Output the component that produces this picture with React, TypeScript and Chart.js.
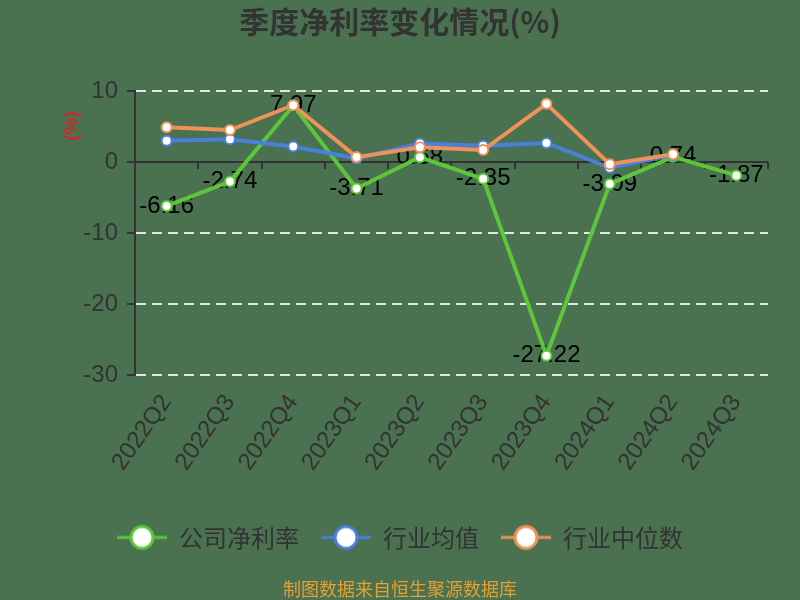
import React, { useEffect, useRef } from 'react';
import { Chart, registerables } from 'chart.js';

Chart.register(...registerables);

const categories = ['2022Q2', '2022Q3', '2022Q4', '2023Q1', '2023Q2', '2023Q3', '2023Q4', '2024Q1', '2024Q2', '2024Q3'];
const companyNetMargin = [-6.16, -2.74, 7.97, -3.71, 0.68, -2.35, -27.22, -3.09, 0.74, -1.87];
const industryMean = [3.0, 3.2, 2.2, 0.5, 2.6, 2.3, 2.7, -0.8, 1.0, null];
const industryMedian = [4.9, 4.5, 8.0, 0.7, 2.1, 1.7, 8.2, -0.3, 1.1, null];
const yTicks = [10, 0, -10, -20, -30];
const seriesNames = ['公司净利率', '行业均值', '行业中位数'];
const seriesColors = ['#5cc53a', '#4a80dc', '#f0915a'];
const titleText = '季度净利率变化情况(%)';
const yAxisName = '(%)';
const footerText = '制图数据来自恒生聚源数据库';

const BG = '#4a7150';
const NUM_FONT = '"Liberation Sans", Arial, "Noto Sans CJK SC", sans-serif';
const CJK_FONT = '"Noto Sans CJK SC", "Liberation Sans", sans-serif';

function makeLegendMarker(color: string): HTMLCanvasElement {
  const c = document.createElement('canvas');
  c.width = 50;
  c.height = 28;
  const g = c.getContext('2d')!;
  g.strokeStyle = color;
  g.lineWidth = 3;
  g.beginPath();
  g.moveTo(0, 14);
  g.lineTo(50, 14);
  g.stroke();
  g.beginPath();
  g.arc(25, 14, 11, 0, Math.PI * 2);
  g.fillStyle = '#ffffff';
  g.fill();
  g.lineWidth = 3;
  g.stroke();
  return c;
}

const bgPlugin = {
  id: 'bgFill',
  beforeDraw(chart: any) {
    const { ctx, width, height } = chart;
    ctx.save();
    ctx.fillStyle = BG;
    ctx.fillRect(0, 0, width, height);
    ctx.restore();
  },
};

const zeroAxisPlugin = {
  id: 'zeroAxis',
  beforeDatasetsDraw(chart: any) {
    const { ctx, chartArea, scales } = chart;
    const xs = scales.x;
    const y0 = scales.y.getPixelForValue(0);
    ctx.save();
    ctx.strokeStyle = '#333333';
    ctx.lineWidth = 2;
    ctx.beginPath();
    ctx.moveTo(chartArea.left, y0);
    ctx.lineTo(chartArea.right, y0);
    ctx.stroke();
    const step = xs.getPixelForValue(1) - xs.getPixelForValue(0);
    const start = xs.getPixelForValue(0) - step / 2;
    for (let i = 0; i <= categories.length; i++) {
      const bx = Math.round(start + i * step);
      ctx.beginPath();
      ctx.moveTo(bx, y0);
      ctx.lineTo(bx, y0 + 7);
      ctx.stroke();
    }
    ctx.restore();
  },
};

const valueLabelPlugin = {
  id: 'valueLabels',
  beforeDatasetsDraw(chart: any) {
    const meta = chart.getDatasetMeta(0);
    const { ctx } = chart;
    ctx.save();
    ctx.font = '24px ' + NUM_FONT;
    ctx.fillStyle = '#000000';
    ctx.textAlign = 'center';
    ctx.textBaseline = 'middle';
    meta.data.forEach((pt: any, i: number) => {
      const v = companyNetMargin[i];
      if (v === null || v === undefined) return;
      ctx.fillText(v.toFixed(2), pt.x, pt.y);
    });
    ctx.restore();
  },
};

const yNamePlugin = {
  id: 'yName',
  afterDraw(chart: any) {
    const { ctx, chartArea } = chart;
    ctx.save();
    ctx.translate(chartArea.left - 63, chartArea.top + 35);
    ctx.rotate(-Math.PI / 2);
    ctx.font = 'bold 19px ' + NUM_FONT;
    ctx.fillStyle = '#cc2a2a';
    ctx.textAlign = 'center';
    ctx.textBaseline = 'middle';
    ctx.fillText(yAxisName, 0, 0);
    ctx.restore();
  },
};

export default function App() {
  const canvasRef = useRef<HTMLCanvasElement | null>(null);

  useEffect(() => {
    const canvas = canvasRef.current;
    if (!canvas) return;
    const markers = seriesColors.map((c) => makeLegendMarker(c));
    const seriesData = [companyNetMargin, industryMean, industryMedian];
    const orders = [2, 1, 0];

    const chart = new Chart(canvas, {
      type: 'line',
      data: {
        labels: categories,
        datasets: seriesNames.map((name, i) => ({
          label: name,
          data: seriesData[i] as any,
          borderColor: seriesColors[i],
          backgroundColor: '#ffffff',
          borderWidth: 4,
          pointRadius: 5,
          pointBorderWidth: 2,
          pointBackgroundColor: '#ffffff',
          pointBorderColor: seriesColors[i],
          pointStyle: 'circle',
          tension: 0,
          spanGaps: false,
          order: orders[i],
          yAxisID: 'y',
        })),
      },
      options: {
        animation: false,
        responsive: false,
        devicePixelRatio: 1,
        layout: { padding: 0 },
        plugins: {
          title: {
            display: true,
            text: titleText,
            color: '#333333',
            font: { size: 30, weight: 'bold', family: CJK_FONT },
            padding: { top: 4, bottom: 51 },
          },
          subtitle: {
            display: true,
            text: footerText,
            position: 'bottom',
            color: '#e6a032',
            font: { size: 18, family: CJK_FONT },
            padding: { top: 19, bottom: 0 },
          },
          legend: {
            display: true,
            position: 'bottom',
            labels: {
              color: '#333333',
              font: { size: 24, family: CJK_FONT },
              usePointStyle: true,
              pointStyleWidth: 50,
              padding: 22,
              sort: (a: any, b: any) => a.datasetIndex - b.datasetIndex,
              generateLabels: (ch: any) => {
                const base = (Chart.defaults.plugins.legend.labels as any).generateLabels(ch);
                return base.map((item: any, i: number) => ({ ...item, pointStyle: markers[item.datasetIndex ?? i] }));
              },
            },
          },
          tooltip: { enabled: false },
        },
        scales: {
          x: {
            type: 'category',
            offset: true,
            grid: { display: false },
            border: { display: false },
            ticks: {
              color: '#333333',
              font: { size: 24, family: NUM_FONT },
              maxRotation: 55,
              minRotation: 55,
              padding: 6,
              autoSkip: false,
            },
            afterFit: (s: any) => {
              s.height = 128;
            },
          },
          y: {
            position: 'left',
            min: -30,
            max: 10,
            afterBuildTicks: (s: any) => {
              s.ticks = yTicks.map((v) => ({ value: v }));
            },
            afterFit: (s: any) => {
              s.width = 135;
            },
            border: { display: true, color: '#333333', width: 2, dash: [10, 6] },
            grid: {
              color: (c: any) => (c.tick && c.tick.value === 0 ? 'rgba(0,0,0,0)' : '#e4e4e4'),
              lineWidth: 2,
              tickColor: '#333333',
              tickLength: 8,
              tickWidth: 2,
              tickBorderDash: [],
            },
            ticks: {
              color: '#333333',
              font: { size: 24, family: NUM_FONT },
              padding: 9,
            },
          },
          yRight: {
            type: 'linear',
            position: 'right',
            display: true,
            grid: { display: false, drawOnChartArea: false },
            border: { display: false },
            ticks: { display: false },
            afterFit: (s: any) => {
              s.width = 32;
            },
          },
        },
      } as any,
      plugins: [bgPlugin, zeroAxisPlugin, valueLabelPlugin, yNamePlugin],
    });

    return () => {
      chart.destroy();
    };
  }, []);

  return (
    <div style={{ position: 'fixed', left: 0, top: 0, width: 800, height: 600, background: BG }}>
      <canvas ref={canvasRef} width={800} height={600} style={{ display: 'block', width: 800, height: 600 }} />
    </div>
  );
}
